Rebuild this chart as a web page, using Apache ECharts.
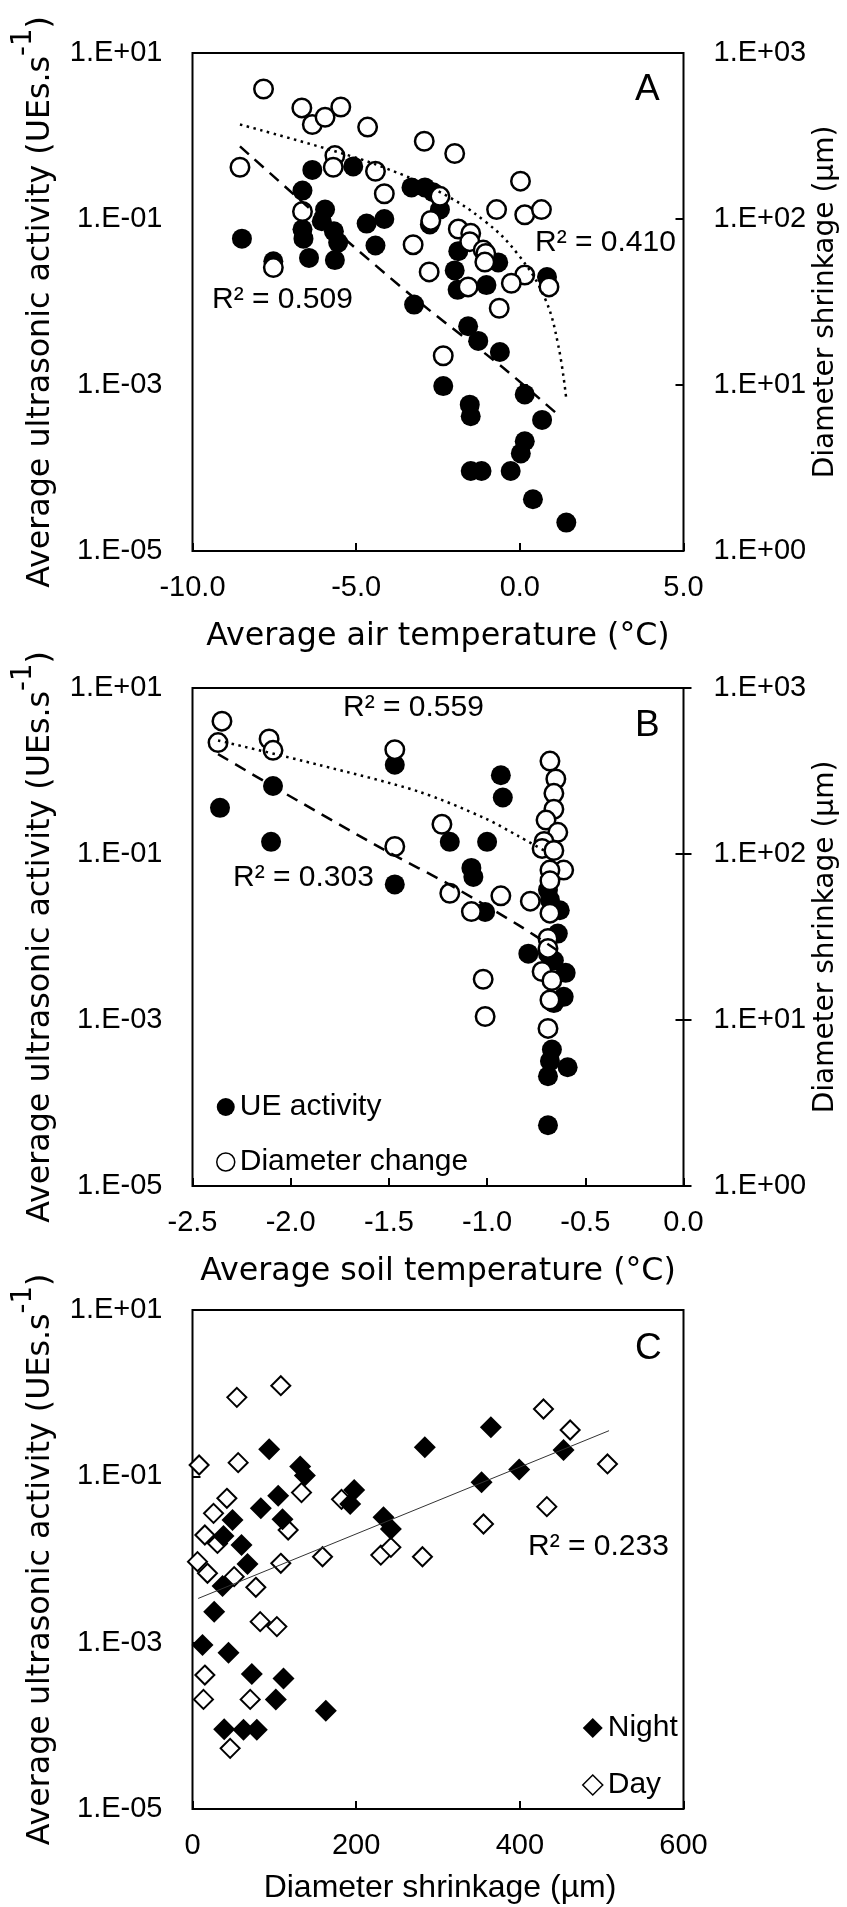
<!DOCTYPE html>
<html>
<head>
<meta charset="utf-8">
<script src="https://cdn.jsdelivr.net/npm/echarts@6/dist/echarts.min.js"></script>
<style>
html,body{margin:0;padding:0;background:#fff;}
#chart{width:847px;height:1907px;}
</style>
</head>
<body>
<div id="chart"></div>
<script>
// ---------- Panel A : air temperature ----------
const airTempUE = [-8.49,-7.53,-6.34,-5.09,-6.64,-5.95,-6.05,-6.64,-6.61,-5.68,-5.55,-6.44,-5.65,-4.68,-4.14,-4.41,-3.31,-2.90,-2.65,-2.44,-2.75,-1.88,-1.99,-1.90,-1.02,-0.66,0.83,-3.23,-1.58,-1.27,-0.61,-2.34,-1.53,-1.50,0.15,0.68,0.15,0.03,-1.50,-1.17,-0.28,0.40,1.42];
const airUE = [0.058,0.031,0.39,0.43,0.22,0.13,0.094,0.075,0.058,0.071,0.052,0.034,0.032,0.088,0.10,0.048,0.24,0.24,0.21,0.13,0.086,0.041,0.024,0.014,0.016,0.030,0.020,0.0093,0.0051,0.0034,0.0025,0.00097,0.00058,0.00042,0.00077,0.00038,0.00021,0.00015,0.000092,0.000092,0.000092,0.000042,0.000022];
const airTempDia = [-7.83,-6.66,-6.34,-5.95,-5.47,-4.65,-2.92,-1.99,-5.65,-5.70,-8.55,-4.41,-4.14,-2.44,0.02,-6.64,-0.71,0.15,0.66,-2.72,-1.88,-1.50,-1.53,-3.26,-1.12,-1.04,-1.07,-7.53,-2.77,0.15,-0.26,-1.58,0.89,-0.63,-2.34];
const airDia = [607,467,371,410,473,358,294,248,241,205,205,194,142,137,169,111,114,106,114,98,87,82,73,70,65,62,55,51,48,46,41,39,39,29,15];
const airFitUEx = [-8.55,-6.0,-3.1,-0.5,1.22];
const airFitUEy = [0.75,0.096,0.0102,0.0016,0.00042];
const airFitDiax = [-8.55,-5.65,-4.12,-2.49,-1.07,-0.05,0.76,1.17,1.42];
const airFitDiay = [371,256,203,147,97,61,33.5,17.5,8.2];

// ---------- Panel B : soil temperature ----------
const soilTempUE = [-2.36,-2.10,-2.09,-1.47,-1.47,-0.93,-0.92,-1.19,-1.00,-1.08,-1.07,-1.01,-0.79,-0.69,-0.68,-0.63,-0.64,-0.69,-0.66,-0.60,-0.61,-0.66,-0.67,-0.59,-0.68,-0.69,-0.69];
const soilUE = [0.36,0.14,0.66,1.19,0.043,0.89,0.48,0.14,0.14,0.068,0.053,0.020,0.0063,0.037,0.028,0.021,0.011,0.0063,0.0052,0.0037,0.0019,0.0016,0.00044,0.00027,0.00032,0.00021,0.000054];
const soilTempDia = [-2.35,-2.37,-2.11,-2.09,-1.47,-1.47,-1.23,-1.19,-1.08,-0.93,-0.78,-1.02,-1.01,-0.68,-0.65,-0.66,-0.66,-0.70,-0.64,-0.71,-0.72,-0.66,-0.61,-0.68,-0.68,-0.68,-0.69,-0.69,-0.72,-0.67,-0.68,-0.69];
const soilDia = [631,469,493,421,425,111,151,58,45,56,52,17.6,10.5,363,283,232,186,160,135,119,108,105,80,80,69,44,31,27,19.6,17.3,13.2,8.9];
const soilFitUEx = [-2.37,-2.03,-1.52,-1.18,-0.84,-0.63];
const soilFitUEy = [1.6,0.54,0.111,0.0413,0.0139,0.0066];
const soilFitDiax = [-2.37,-1.86,-1.35,-1.01,-0.84,-0.71];
const soilFitDiay = [483,345,238,164,128,105];

// ---------- Panel C : shrinkage vs activity ----------
const nightShrink = [93.7,131.6,137.3,104.7,83.5,110,48.9,37.9,59.9,67.2,36.7,26.5,12.2,44,72.5,111.2,101.8,162.9,38.7,62.3,78.6,197.6,192.7,233.4,242.4,283.9,364.6,453.4,399.2,353.2];
const nightUE = [0.211,0.131,0.102,0.0586,0.0412,0.0304,0.0299,0.0192,0.0149,0.00883,0.0048,0.00236,0.000937,0.000759,0.00042,0.000372,0.000208,0.000152,0.0000908,0.0000895,0.0000895,0.0685,0.0465,0.0322,0.0233,0.223,0.388,0.207,0.121,0.0847];
const dayShrink = [107.9,54.2,428.9,461.5,8.1,55.8,507.1,133.2,182.1,42,25.7,433,355.6,15.1,30.5,116.9,6.1,18.3,107.9,158.9,230.1,242.4,281,50.9,77.4,82.7,103.1,15.1,13.4,70.5,46];
const dayUE = [1.23,0.891,0.645,0.361,0.137,0.146,0.141,0.0637,0.0529,0.0544,0.0359,0.0432,0.0267,0.0197,0.0156,0.0226,0.00942,0.00682,0.009,0.0108,0.0113,0.014,0.0108,0.00622,0.00463,0.00179,0.00156,0.000408,0.000208,0.000208,0.0000536];
const shrinkFitx = [6.9,509];
const shrinkFity = [0.0034,0.354];

// ---------- tick values & labels ----------
const ueTicks = [1e-5,1e-3,1e-1,10];
const diaTicks = [1,10,100,1000];
const r2Labels = ['R² = 0.410','R² = 0.509','R² = 0.559','R² = 0.303','R² = 0.233'];
const panelLetters = ['A','B','C'];
const yTitleMain = 'Average ultrasonic activity (UEs.s';
const yTitleSup = '-1';
const yTitleEnd = ')';
const yRightTitle = 'Diameter shrinkage (µm)';
const xTitles = ['Average air temperature (°C)','Average soil temperature (°C)','Diameter shrinkage (µm)'];

const zip = (a,b)=>a.map((v,i)=>[v,b[i]]);
function expLabel(v){
  const e = Math.round(Math.log10(v));
  const a = Math.abs(e);
  return '1.E' + (e<0?'-':'+') + (a<10?'0':'') + a;
}
const ARIAL = 'Liberation Sans';
const DEJAVU = 'DejaVu Sans';
const tickStyle = {show:true,inside:true,length:8,lineStyle:{color:'#000',width:2}};

function logAxis(grid,pos,min,max,ticks){
  return {type:'log',logBase:10,gridIndex:grid,position:pos,min:min,max:max,
    axisLine:{show:false},
    axisTick:Object.assign({customValues:ticks},tickStyle),
    axisLabel:{customValues:ticks,formatter:expLabel,margin:30,fontFamily:ARIAL,fontSize:29,color:'#000'},
    splitLine:{show:false},minorTick:{show:false}};
}
function valAxis(grid,min,max,interval,fmt){
  return {type:'value',gridIndex:grid,min:min,max:max,interval:interval,
    axisLine:{show:false},axisTick:tickStyle,
    axisLabel:{margin:22,fontFamily:ARIAL,fontSize:29,color:'#000',formatter:fmt},
    splitLine:{show:false}};
}
const fmt1 = v => (Math.abs(v)<1e-9?0:v).toFixed(1);

const filledCircle = {symbol:'circle',symbolSize:20,itemStyle:{color:'#000',opacity:1}};
const openCircle = {symbol:'circle',symbolSize:18.5,itemStyle:{color:'#fff',borderColor:'#000',borderWidth:2.5,opacity:1}};
const dashed = {color:'#000',width:2.5,type:[12,8],cap:'butt'};
const dotted = {color:'#000',width:2.5,type:[2.5,4.5],cap:'butt'};

function scat(name,x,y,xi,yi,style){
  return Object.assign({type:'scatter',name:name,xAxisIndex:xi,yAxisIndex:yi,data:zip(x,y),animation:false,emphasis:{disabled:true}},style);
}
function fit(x,y,xi,yi,ls,smooth){
  return {type:'line',xAxisIndex:xi,yAxisIndex:yi,data:zip(x,y),showSymbol:false,symbol:'none',smooth:smooth,lineStyle:ls,animation:false,silent:true,z:5};
}

const grids = [
  {left:192.5,top:53,width:491,height:498},
  {left:192.5,top:688,width:491,height:498},
  {left:192.5,top:1310,width:491,height:499}
].map(g=>Object.assign(g,{show:true,borderColor:'#000',borderWidth:2,containLabel:false}));

// measure text widths for the superscript layout of the rotated title
const mctx = document.createElement('canvas').getContext('2d');
function tw(s,font){ mctx.font = font; return mctx.measureText(s).width; }
const FN = '31.7px "DejaVu Sans"';
const FS = '27.5px "DejaVu Sans"';

function ytitle(cy){
  const w1 = tw(yTitleMain,FN), w2 = tw(yTitleSup,FS), w3 = tw(yTitleEnd,FN);
  const W = w1 + w2 + w3;
  const start = cy + W/2;           // bottom end (text reads bottom -> top)
  const baseX = 41;                 // middle line of normal text
  const supX = 23.5;                // middle line of the superscript
  return [
    {type:'text',x:baseX,y:start,rotation:Math.PI/2,silent:true,
     style:{text:yTitleMain,font:FN,fill:'#000',align:'left',verticalAlign:'middle'}},
    {type:'text',x:supX,y:start-w1,rotation:Math.PI/2,silent:true,
     style:{text:yTitleSup,font:FS,fill:'#000',align:'left',verticalAlign:'middle'}},
    {type:'text',x:baseX,y:start-w1-w2,rotation:Math.PI/2,silent:true,
     style:{text:yTitleEnd,font:FN,fill:'#000',align:'left',verticalAlign:'middle'}}
  ];
}
function rtitle(cy){
  return {type:'text',x:826,y:cy,rotation:Math.PI/2,silent:true,
    style:{text:yRightTitle,font:'28px "DejaVu Sans"',fill:'#000',align:'center',verticalAlign:'middle'}};
}
function txt(s,x,y,size,fam,align){
  return {type:'text',x:x,y:y,silent:true,style:{text:s,font:size+'px "'+fam+'"',fill:'#000',align:align||'left',verticalAlign:'middle'}};
}

const option = {
  backgroundColor:'#fff',
  animation:false,
  grid:grids,
  xAxis:[valAxis(0,-10,5,5,fmt1),valAxis(1,-2.5,0,0.5,fmt1),valAxis(2,0,600,200)],
  yAxis:[logAxis(0,'left',1e-5,10,ueTicks),logAxis(0,'right',1,1000,diaTicks),
         logAxis(1,'left',1e-5,10,ueTicks),logAxis(1,'right',1,1000,diaTicks),
         logAxis(2,'left',1e-5,10,ueTicks)],
  legend:[
    {data:[{name:'UE activity',icon:'circle',itemStyle:{color:'#000',borderWidth:0,opacity:1}},
           {name:'Diameter change',icon:'circle',itemStyle:{color:'#fff',borderColor:'#000',borderWidth:1.5,opacity:1}}],
     orient:'vertical',left:211,top:1087,itemWidth:18,itemHeight:18,itemGap:25,selectedMode:false,
     textStyle:{fontFamily:ARIAL,fontSize:30,color:'#000'}},
    {data:[{name:'Night',icon:'diamond',itemStyle:{color:'#000',borderWidth:0,opacity:1}},
           {name:'Day',icon:'diamond',itemStyle:{color:'#fff',borderColor:'#000',borderWidth:1.5,opacity:1}}],
     orient:'vertical',left:577,top:1708,itemWidth:20,itemHeight:20,itemGap:27,selectedMode:false,
     textStyle:{fontFamily:ARIAL,fontSize:30,color:'#000'}}
  ],
  series:[
    scat('UE activity',airTempUE,airUE,0,0,filledCircle),
    scat('Diameter change',airTempDia,airDia,0,1,openCircle),
    fit(airFitUEx,airFitUEy,0,0,dashed,0.3),
    fit(airFitDiax,airFitDiay,0,1,dotted,0.4),
    scat('UE activity',soilTempUE,soilUE,1,2,filledCircle),
    scat('Diameter change',soilTempDia,soilDia,1,3,openCircle),
    fit(soilFitUEx,soilFitUEy,1,2,dashed,0.3),
    fit(soilFitDiax,soilFitDiay,1,3,dotted,0.3),
    scat('Day',dayShrink,dayUE,2,4,{symbol:'diamond',symbolSize:19,itemStyle:{color:'#fff',borderColor:'#000',borderWidth:2,opacity:1}}),
    scat('Night',nightShrink,nightUE,2,4,{symbol:'diamond',symbolSize:22,itemStyle:{color:'#000',opacity:1}}),
    fit(shrinkFitx,shrinkFity,2,4,{color:'#333',width:1},false)
  ],
  graphic:[].concat(
    ytitle(302), ytitle(937), ytitle(1559.5),
    [rtitle(302), rtitle(937),
    txt(xTitles[0],438,636.5,31.7,DEJAVU,'center'),
    txt(xTitles[1],438,1272,31.7,DEJAVU,'center'),
    txt(xTitles[2],440,1888,32,ARIAL,'center'),
    txt(panelLetters[0],635,90,37,ARIAL),
    txt(panelLetters[1],635,726,37,ARIAL),
    txt(panelLetters[2],635,1349,37,ARIAL),
    txt(r2Labels[0],535,243,30,ARIAL),
    txt(r2Labels[1],212,300,30,ARIAL),
    txt(r2Labels[2],343,708,30,ARIAL),
    txt(r2Labels[3],233,878,30,ARIAL),
    txt(r2Labels[4],528,1547,30,ARIAL)]
  )
};
const chart = echarts.init(document.getElementById('chart'),null,{renderer:'canvas'});
chart.setOption(option);
</script>
</body>
</html>
